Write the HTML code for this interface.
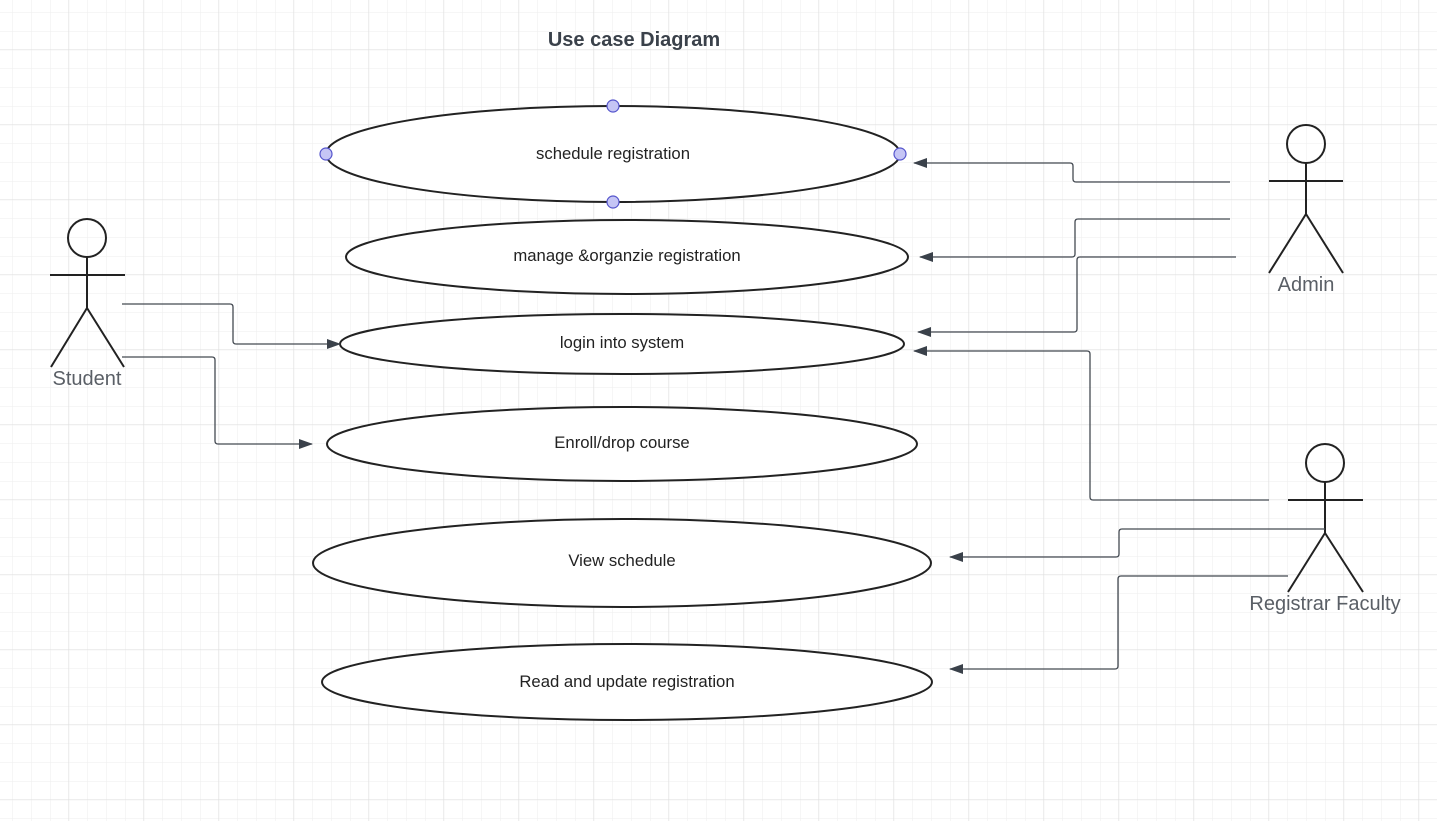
<!DOCTYPE html>
<html><head><meta charset="utf-8"><style>
html,body{margin:0;padding:0;background:#fff;}
svg{display:block;}
</style></head><body>
<svg width="1437" height="821" viewBox="0 0 1437 821" xmlns="http://www.w3.org/2000/svg">
<defs>
<pattern id="minor" width="18.75" height="18.75" patternUnits="userSpaceOnUse" x="-5.75" y="-6">
<path d="M18.75 0V18.75M0 18.75H18.75" stroke="#ededed" stroke-width="1" fill="none"/>
</pattern>
<pattern id="major" width="75" height="75" patternUnits="userSpaceOnUse" x="-6" y="-25">
<path d="M75 0V75M0 75H75" stroke="#dedede" stroke-width="1" fill="none"/>
</pattern>
<marker id="ar" markerWidth="14" markerHeight="10" refX="13" refY="5" orient="auto" markerUnits="userSpaceOnUse">
<path d="M0 0L14 5L0 10Z" fill="#3a414a"/>
</marker>
</defs>
<rect width="1437" height="821" fill="url(#minor)"/>
<rect width="1437" height="821" fill="url(#major)"/>

<text x="634" y="46" text-anchor="middle" font-family="Liberation Sans, sans-serif" font-weight="bold" font-size="20" fill="#3a414a">Use case Diagram</text>

<g fill="#fff" stroke="#222" stroke-width="2">
<ellipse cx="613" cy="154" rx="287" ry="48"/>
<ellipse cx="627" cy="257" rx="281" ry="37"/>
<ellipse cx="622" cy="344" rx="282" ry="30"/>
<ellipse cx="622" cy="444" rx="295" ry="37"/>
<ellipse cx="622" cy="563" rx="309" ry="44"/>
<ellipse cx="627" cy="682" rx="305" ry="38"/>
</g>
<g fill="#c5c5f5" stroke="#5555cc" stroke-width="1.2">
<circle cx="613" cy="106" r="6"/><circle cx="326" cy="154" r="6"/><circle cx="900" cy="154" r="6"/><circle cx="613" cy="202" r="6"/>
</g>
<g font-family="Liberation Sans, sans-serif" font-size="16.7" fill="#222" text-anchor="middle">
<text x="613" y="159">schedule registration</text>
<text x="627" y="261">manage &amp;organzie registration</text>
<text x="622" y="348">login into system</text>
<text x="622" y="448">Enroll/drop course</text>
<text x="622" y="566">View schedule</text>
<text x="627" y="687">Read and update registration</text>
</g>

<g stroke="#222" stroke-width="2" fill="none">
<circle cx="87" cy="238" r="19"/><path d="M87 257V308M50 275H125M87 308L51 367M87 308L124 367"/>
<circle cx="1306" cy="144" r="19"/><path d="M1306 163V214M1269 181H1343M1306 214L1269 273M1306 214L1343 273"/>
<circle cx="1325" cy="463" r="19"/><path d="M1325 482V533M1288 500H1363M1325 533L1288 592M1325 533L1363 592"/>
</g>
<g font-family="Liberation Sans, sans-serif" font-size="20" fill="#5a5f66" text-anchor="middle">
<text x="87" y="385">Student</text>
<text x="1306" y="291">Admin</text>
<text x="1325" y="610">Registrar Faculty</text>
</g>

<g stroke="#444a52" stroke-width="1.3" fill="none" marker-end="url(#ar)">
<path d="M1230 182H1076Q1073 182 1073 179V166Q1073 163 1070 163H914"/>
<path d="M1230 219H1078Q1075 219 1075 222V254Q1075 257 1072 257H920"/>
<path d="M1236 257H1080Q1077 257 1077 260V329Q1077 332 1074 332H918"/>
<path d="M122 304H230Q233 304 233 307V341Q233 344 236 344H340"/>
<path d="M122 357H212Q215 357 215 360V441Q215 444 218 444H312"/>
<path d="M1269 500H1093Q1090 500 1090 497V354Q1090 351 1087 351H914"/>
<path d="M1325 529H1122Q1119 529 1119 532V554Q1119 557 1116 557H950"/>
<path d="M1288 576H1121Q1118 576 1118 579V666Q1118 669 1115 669H950"/>
</g>
</svg>
</body></html>
